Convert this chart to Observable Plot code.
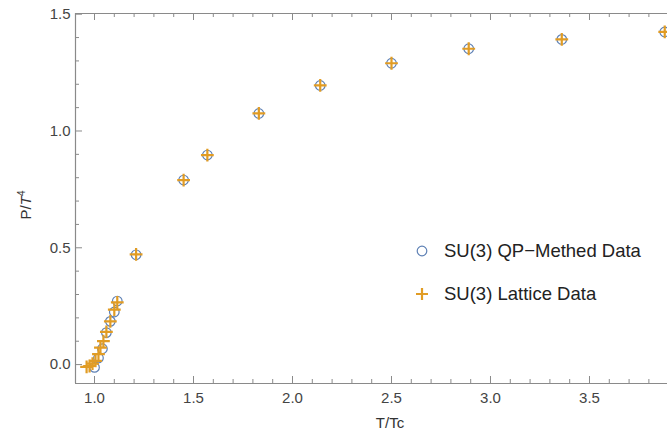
<!DOCTYPE html>
<html>
<head>
<meta charset="utf-8">
<script src="https://cdn.jsdelivr.net/npm/d3@7"></script>
<script src="https://cdn.jsdelivr.net/npm/@observablehq/plot@0.6"></script>
<style>
  body { margin: 0; background: #fff; }
  #wrap { position: relative; width: 667px; height: 434px; font-family: "Liberation Sans", Arial, sans-serif; color: #333; }
  #wrap svg.plot { position: absolute; left: 0; top: 0; }
  .ylab { position: absolute; left: 25px; top: 205px; transform: translate(-50%, -50%) rotate(-90deg); font-size: 15px; white-space: nowrap; color: #333; }
  .xlab { position: absolute; left: 390px; top: 422px; transform: translate(-50%, -50%); font-size: 15px; white-space: nowrap; color: #333; }
  .leg { position: absolute; left: 414px; font-size: 18.5px; white-space: nowrap; display: flex; align-items: center; color: #222; }
  .leg svg { margin-right: 14px; }
</style>
</head>
<body>
<div id="wrap"></div>
<script>
// QP-method data (T/Tc, P/T^4)
const qpT = [1.00, 1.02, 1.04, 1.06, 1.08, 1.10, 1.115, 1.21, 1.45, 1.57, 1.83, 2.14, 2.50, 2.89, 3.36, 3.88];
const qpP = [-0.012, 0.028, 0.068, 0.137, 0.185, 0.225, 0.272, 0.47, 0.79, 0.897, 1.075, 1.195, 1.29, 1.352, 1.392, 1.424];
// Lattice data (T/Tc, P/T^4)
const latT = [0.96, 0.975, 0.99, 1.005, 1.02, 1.03, 1.045, 1.06, 1.08, 1.10, 1.115, 1.21, 1.45, 1.57, 1.83, 2.14, 2.50, 2.89, 3.36, 3.88];
const latP = [-0.01, -0.006, 0.004, 0.016, 0.045, 0.073, 0.10, 0.14, 0.185, 0.235, 0.266, 0.472, 0.79, 0.897, 1.075, 1.195, 1.29, 1.352, 1.392, 1.424];
// Ticks
const xMajor = [1.0, 1.5, 2.0, 2.5, 3.0, 3.5];
const yMajor = [0.0, 0.5, 1.0, 1.5];
const xDomain = [0.904, 3.894];
const yDomain = [-0.081, 1.503];

const xMinor = d3.range(10, 39).map(d => d / 10).filter(d => !xMajor.includes(d));
const yMinor = d3.range(0, 16).map(d => d / 10).filter(d => !yMajor.includes(d));

const qp = qpT.map((t, i) => ({t, p: qpP[i]}));
const lat = latT.map((t, i) => ({t, p: latP[i]}));

const W = 667, H = 434, mL = 75, mR = 0, mT = 13, mB = 51;
// data units per pixel, for inward tick lengths
const ux = (xDomain[1] - xDomain[0]) / (W - mL - mR);
const uy = (yDomain[1] - yDomain[0]) / (H - mT - mB);
const axisColor = "#8a8a8a";
const fmt = d => d.toFixed(1);

const xTicks = (vals, len) => [
  Plot.ruleX(vals, {y1: yDomain[0], y2: yDomain[0] + len * uy, stroke: axisColor}),
  Plot.ruleX(vals, {y1: yDomain[1], y2: yDomain[1] - len * uy, stroke: axisColor})
];
const yTicks = (vals, len) =>
  Plot.ruleY(vals, {x1: xDomain[0], x2: xDomain[0] + len * ux, stroke: axisColor});

const chart = Plot.plot({
  width: W, height: H,
  marginLeft: mL, marginRight: mR, marginTop: mT, marginBottom: mB,
  x: {domain: xDomain},
  y: {domain: yDomain},
  style: {fontFamily: "'Liberation Sans', Arial, sans-serif", fontSize: "15px", color: "#444", background: "white"},
  marks: [
    // frame lines (left, bottom, top)
    Plot.ruleX([xDomain[0]], {stroke: axisColor, strokeWidth: 1.2}),
    Plot.ruleY([yDomain[0]], {stroke: axisColor, strokeWidth: 1.2}),
    Plot.ruleY([yDomain[1]], {stroke: axisColor, strokeWidth: 1.2}),
    // tick labels
    Plot.axisX({ticks: xMajor, anchor: "bottom", tickSize: 0, tickPadding: 9, tickFormat: fmt, label: null, fill: "#444", fontSize: 15}),
    Plot.axisY({ticks: yMajor, anchor: "left", tickSize: 0, tickPadding: 5, tickFormat: fmt, label: null, fill: "#444", fontSize: 15}),
    // inward ticks
    ...xTicks(xMajor, 7),
    ...xTicks(xMinor, 4),
    yTicks(yMajor, 7),
    yTicks(yMinor, 4),
    // data
    Plot.dot(qp, {x: "t", y: "p", r: 4.8, stroke: "#5E81B5", fill: "none", strokeWidth: 1.2}),
    Plot.dot(lat, {x: "t", y: "p", symbol: "plus", r: 4.2, stroke: "#E19C24", strokeWidth: 2.2})
  ]
});
chart.classList.add("plot");

const wrap = document.getElementById("wrap");
wrap.appendChild(chart);
wrap.insertAdjacentHTML("beforeend", `
  <div class="leg" style="top:240px"><svg width="16" height="16"><circle cx="8" cy="8" r="4.8" fill="none" stroke="#5E81B5" stroke-width="1.2"/></svg>SU(3) QP−Methed Data</div>
  <div class="leg" style="top:283px"><svg width="16" height="16"><path d="M2,8H14M8,2V14" stroke="#E19C24" stroke-width="2.2"/></svg>SU(3) Lattice Data</div>
  <div class="ylab">P/<i>T</i><sup style="font-size:10px">4</sup></div>
  <div class="xlab">T/Tc</div>
`);
</script>
</body>
</html>
